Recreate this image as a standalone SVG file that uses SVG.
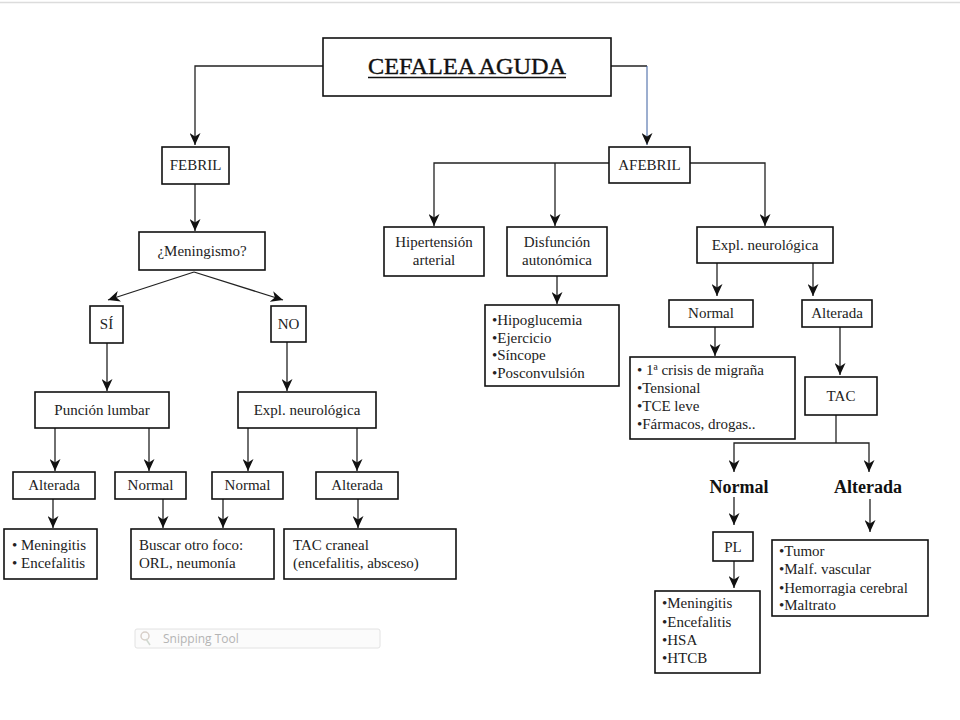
<svg xmlns="http://www.w3.org/2000/svg" width="960" height="720" viewBox="0 0 960 720">
<defs>
<marker id="ah" viewBox="0 0 12 11" refX="12" refY="5.5" markerWidth="12" markerHeight="11" markerUnits="userSpaceOnUse" orient="auto">
<path d="M0,0 L12,5.5 L0,11 L3.5,5.5 Z" fill="#111"/>
</marker>
<style>
.bx{fill:#fff;stroke:#111;stroke-width:1.6}
.t{font-family:"Liberation Serif","DejaVu Serif",serif;font-size:15px;fill:#222;text-anchor:middle}
.l{font-family:"Liberation Serif","DejaVu Serif",serif;font-size:15px;fill:#222}
.b{font-family:"Liberation Serif","DejaVu Serif",serif;font-size:18px;font-weight:bold;fill:#111;text-anchor:middle}
.c{fill:none;stroke:#222;stroke-width:1.3}
.a{fill:none;stroke:#222;stroke-width:1.3;marker-end:url(#ah)}
</style>
</defs>
<rect width="960" height="720" fill="#fff"/>
<line x1="0" y1="2.5" x2="960" y2="2.5" stroke="#dcdcdc" stroke-width="1.5"/>

<g id="connectors">
<polyline class="a" points="323,66 195,66 195,145"/>
<line x1="611" y1="66" x2="647" y2="66" stroke="#222" stroke-width="1.3"/>
<line x1="647" y1="66" x2="647" y2="145" stroke="#3a5fa0" stroke-width="1" marker-end="url(#ah)"/>
<line class="a" x1="195" y1="184" x2="195" y2="231"/>
<line class="a" x1="194" y1="272" x2="108" y2="300"/>
<line class="a" x1="194" y1="272" x2="283" y2="300"/>
<line class="a" x1="107" y1="343" x2="107" y2="391"/>
<line class="a" x1="287" y1="342" x2="287" y2="391"/>
<line class="a" x1="55" y1="428" x2="55" y2="471"/>
<line class="a" x1="149" y1="428" x2="149" y2="471"/>
<line class="a" x1="248" y1="428" x2="248" y2="471"/>
<line class="a" x1="357" y1="428" x2="357" y2="471"/>
<line class="a" x1="53" y1="499" x2="53" y2="528"/>
<line class="a" x1="163" y1="499" x2="163" y2="528"/>
<line class="a" x1="223" y1="499" x2="223" y2="528"/>
<line class="a" x1="358" y1="499" x2="358" y2="528"/>
<polyline class="a" points="609,163 434,163 434,226"/>
<line class="a" x1="555" y1="163" x2="555" y2="226"/>
<polyline class="a" points="690,163 765,163 765,226"/>
<line class="a" x1="557" y1="276" x2="557" y2="304"/>
<line class="a" x1="717" y1="263" x2="717" y2="296"/>
<line class="a" x1="813" y1="263" x2="813" y2="296"/>
<line class="a" x1="715" y1="327" x2="715" y2="356"/>
<line class="a" x1="840" y1="327" x2="840" y2="375"/>
<polyline class="c" points="836,415 836,443"/>
<polyline class="a" points="836,443 734,443 734,472"/>
<polyline class="a" points="836,443 869,443 869,472"/>
<line class="a" x1="734" y1="497" x2="734" y2="525"/>
<line class="a" x1="734" y1="561" x2="734" y2="588"/>
<line class="a" x1="870" y1="499" x2="870" y2="532"/>
</g>

<g id="n-cefalea">
<rect class="bx" x="323" y="38" width="288" height="58"/>
<text x="467" y="74" font-family="Liberation Serif,serif" font-size="24" fill="#111" stroke="#111" stroke-width="0.4" text-anchor="middle" textLength="198" lengthAdjust="spacingAndGlyphs">CEFALEA AGUDA</text>
<line x1="368" y1="77.5" x2="566" y2="77.5" stroke="#111" stroke-width="1.3"/>
</g>
<g id="n-febril"><rect class="bx" x="162" y="147" width="67" height="37"/><text class="t" x="195.5" y="170" font-size="14">FEBRIL</text></g>
<g id="n-afebril"><rect class="bx" x="609" y="147" width="81" height="36"/><text class="t" x="649.5" y="170">AFEBRIL</text></g>
<g id="n-meningismo"><rect class="bx" x="139" y="232" width="126" height="38"/><text class="t" x="202" y="256">¿Meningismo?</text></g>
<g id="n-si"><rect class="bx" x="90" y="306" width="33" height="37"/><text class="t" x="106.5" y="329">SÍ</text></g>
<g id="n-no"><rect class="bx" x="271" y="306" width="35" height="36"/><text class="t" x="288.5" y="329">NO</text></g>
<g id="n-puncion"><rect class="bx" x="35" y="392" width="134" height="36"/><text class="t" x="102" y="415">Punción lumbar</text></g>
<g id="n-expl1"><rect class="bx" x="238" y="392" width="138" height="36"/><text class="t" x="307" y="415">Expl. neurológica</text></g>
<g id="n-alt1"><rect class="bx" x="13" y="472" width="82" height="27"/><text class="t" x="54" y="490">Alterada</text></g>
<g id="n-nor1"><rect class="bx" x="115" y="472" width="71" height="27"/><text class="t" x="150.5" y="490">Normal</text></g>
<g id="n-nor2"><rect class="bx" x="212" y="472" width="71" height="27"/><text class="t" x="247.5" y="490">Normal</text></g>
<g id="n-alt2"><rect class="bx" x="316" y="472" width="82" height="27"/><text class="t" x="357" y="490">Alterada</text></g>
<g id="n-mening1"><rect class="bx" x="4" y="529" width="93" height="50"/>
<text class="l" x="12" y="550">• Meningitis</text><text class="l" x="12" y="568">• Encefalitis</text></g>
<g id="n-buscar"><rect class="bx" x="131" y="529" width="143" height="50"/>
<text class="l" x="139" y="550">Buscar otro foco:</text><text class="l" x="139" y="568">ORL, neumonía</text></g>
<g id="n-taccraneal"><rect class="bx" x="284" y="529" width="172" height="50"/>
<text class="l" x="293" y="550">TAC craneal</text><text class="l" x="293" y="568">(encefalitis, absceso)</text></g>

<g id="n-hta"><rect class="bx" x="384" y="227" width="100" height="49"/><text class="t" x="434" y="247">Hipertensión</text><text class="t" x="434" y="265">arterial</text></g>
<g id="n-disf"><rect class="bx" x="507" y="227" width="100" height="49"/><text class="t" x="557" y="247">Disfunción</text><text class="t" x="557" y="265">autonómica</text></g>
<g id="n-hipo"><rect class="bx" x="485" y="305" width="134" height="81"/>
<text class="l" x="492" y="325">•Hipoglucemia</text><text class="l" x="492" y="343">•Ejercicio</text><text class="l" x="492" y="360">•Síncope</text><text class="l" x="492" y="378">•Posconvulsión</text></g>
<g id="n-expl2"><rect class="bx" x="697" y="227" width="136" height="36"/><text class="t" x="765" y="250">Expl. neurológica</text></g>
<g id="n-nor3"><rect class="bx" x="669" y="300" width="84" height="27"/><text class="t" x="711" y="318">Normal</text></g>
<g id="n-alt3"><rect class="bx" x="802" y="300" width="70" height="27"/><text class="t" x="837" y="318">Alterada</text></g>
<g id="n-crisis"><rect class="bx" x="630" y="357" width="165" height="82"/>
<text class="l" x="637" y="375">• 1ª crisis de migraña</text><text class="l" x="637" y="393">•Tensional</text><text class="l" x="637" y="411">•TCE leve</text><text class="l" x="637" y="429">•Fármacos, drogas..</text></g>
<g id="n-tac"><rect class="bx" x="805" y="377" width="72" height="38"/><text class="t" x="841" y="401">TAC</text></g>
<g id="n-normal-b"><text class="b" x="739" y="493">Normal</text></g>
<g id="n-alterada-b"><text class="b" x="868" y="493">Alterada</text></g>
<g id="n-pl"><rect class="bx" x="713" y="532" width="40" height="29"/><text class="t" x="733" y="552">PL</text></g>
<g id="n-mening2"><rect class="bx" x="655" y="591" width="105" height="82"/>
<text class="l" x="662" y="608">•Meningitis</text><text class="l" x="662" y="627">•Encefalitis</text><text class="l" x="662" y="645">•HSA</text><text class="l" x="662" y="663">•HTCB</text></g>
<g id="n-tumor"><rect class="bx" x="772" y="540" width="156" height="76"/>
<text class="l" x="779" y="556">•Tumor</text><text class="l" x="779" y="574">•Malf. vascular</text><text class="l" x="779" y="593">•Hemorragia cerebral</text><text class="l" x="779" y="610">•Maltrato</text></g>

<g id="snipping">
<rect x="135" y="629" width="245" height="19" rx="2" fill="#fbfbfb" stroke="#e2e2e2" stroke-width="1"/>
<circle cx="145" cy="636" r="4" fill="none" stroke="#d8cfc8" stroke-width="1.5"/>
<line x1="146" y1="639" x2="150" y2="645" stroke="#d0d8d0" stroke-width="1.5"/>
<text x="163" y="643" font-family="Open Sans,Liberation Sans,sans-serif" font-size="12" fill="#b4b4b4">Snipping Tool</text>
</g>
</svg>
